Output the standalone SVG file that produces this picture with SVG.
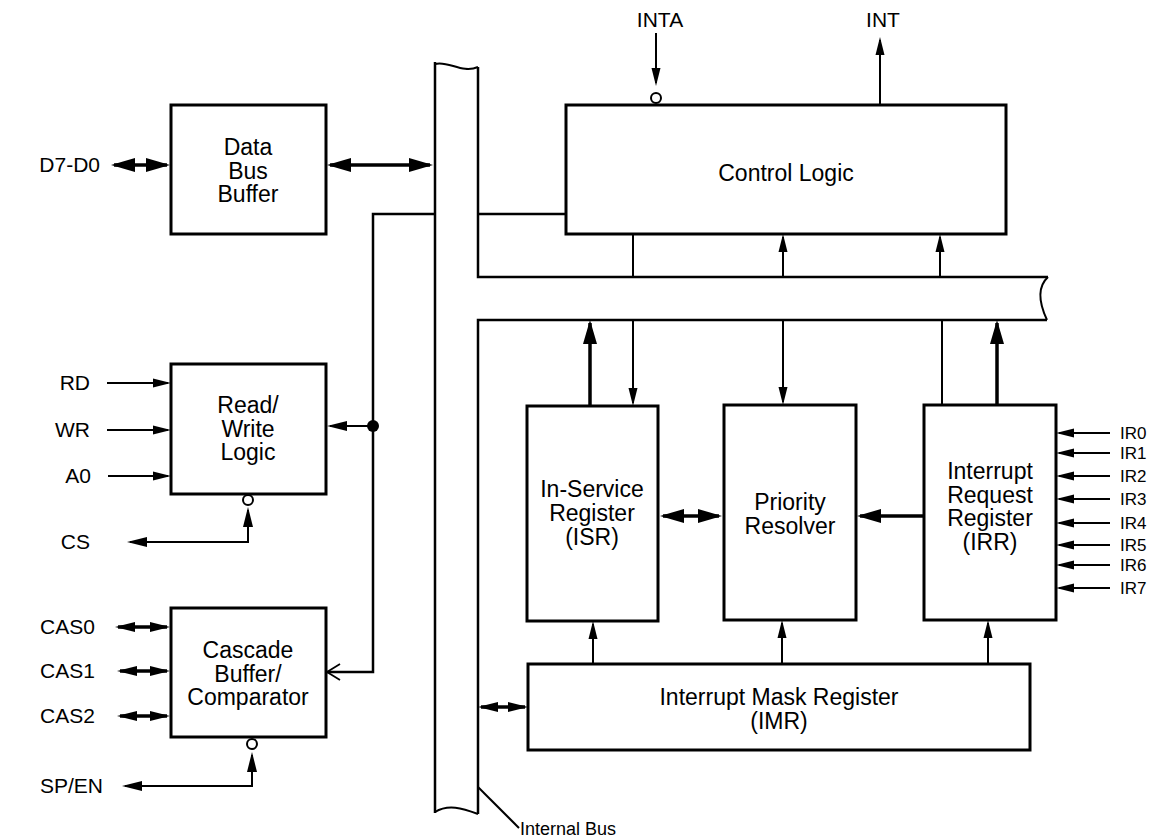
<svg xmlns="http://www.w3.org/2000/svg" width="1158" height="840" viewBox="0 0 1158 840">
<style>
.box{fill:#fff;stroke:#000;stroke-width:3}
.bus{fill:none;stroke:#000;stroke-width:2.5}
.w{fill:none;stroke:#000;stroke-width:2}
.t{fill:none;stroke:#000;stroke-width:3.5}
.bub{fill:#fff;stroke:#000;stroke-width:2}
text{font-family:"Liberation Sans",Arial,sans-serif;fill:#000}
.bt{font-size:23px;text-anchor:middle}
.lb{font-size:21px}
.ir{font-size:17px}
</style>
<defs>
<marker id="ab" markerUnits="userSpaceOnUse" markerWidth="24" markerHeight="14" refX="21" refY="7" orient="auto-start-reverse" overflow="visible"><path d="M0,0 L24,7 L0,14 z" fill="#000"/></marker>
<marker id="am" markerUnits="userSpaceOnUse" markerWidth="20" markerHeight="10" refX="17" refY="5" orient="auto-start-reverse" overflow="visible"><path d="M0,0 L20,5 L0,10 z" fill="#000"/></marker>
<marker id="as" markerUnits="userSpaceOnUse" markerWidth="18" markerHeight="9" refX="15" refY="4.5" orient="auto-start-reverse" overflow="visible"><path d="M0,0 L18,4.5 L0,9 z" fill="#000"/></marker>
<marker id="ao" markerUnits="userSpaceOnUse" markerWidth="14" markerHeight="18" refX="13" refY="9" orient="auto" overflow="visible"><path d="M0,1 L13,9 L0,17" fill="none" stroke="#000" stroke-width="1.8"/></marker>
</defs>

<g id="internal-bus">
<path class="bus" d="M435,62 V813"/>
<path class="bus" d="M478,67 V277 H1048"/>
<path class="bus" d="M1047,320 H478 V814"/>
<path class="w" d="M435,64 C448,60 462,74 478,67"/>
<path class="w" d="M435,812 C448,804 462,808 478,814"/>
<path class="w" d="M1048,277 C1036,288 1040,305 1047,320"/>
<text x="520" y="835" style="font-size:18px">Internal Bus</text>
</g>

<g id="data-bus-buffer">
<rect class="box" x="171" y="105" width="155" height="129"/>
<text class="bt" x="248" y="155">Data<tspan x="248" dy="23.5">Bus</tspan><tspan x="248" dy="23.5">Buffer</tspan></text>
</g>

<g id="read-write-logic">
<rect class="box" x="171" y="364" width="155" height="130"/>
<text class="bt" x="248" y="413">Read/<tspan x="248" dy="23.5">Write</tspan><tspan x="248" dy="23.5">Logic</tspan></text>
<circle class="bub" cx="248" cy="500" r="5"/>
</g>

<g id="cascade-buffer">
<rect class="box" x="171" y="608" width="155" height="129"/>
<text class="bt" x="248" y="658">Cascade<tspan x="248" dy="23.5">Buffer/</tspan><tspan x="248" dy="23.5">Comparator</tspan></text>
<circle class="bub" cx="252" cy="744" r="5"/>
</g>

<g id="control-logic">
<rect class="box" x="566" y="105" width="440" height="129"/>
<text class="bt" x="786" y="181">Control Logic</text>
<circle class="bub" cx="656" cy="98" r="5"/>
</g>

<g id="isr">
<rect class="box" x="527" y="406" width="131" height="215"/>
<text class="bt" x="592" y="497">In-Service<tspan x="592" dy="24">Register</tspan><tspan x="592" dy="24">(ISR)</tspan></text>
</g>

<g id="priority-resolver">
<rect class="box" x="724" y="405" width="132" height="215"/>
<text class="bt" x="790" y="510">Priority<tspan x="790" dy="23.5">Resolver</tspan></text>
</g>

<g id="irr">
<rect class="box" x="924" y="405" width="132" height="215"/>
<text class="bt" x="990" y="479">Interrupt<tspan x="990" dy="23.5">Request</tspan><tspan x="990" dy="23.5">Register</tspan><tspan x="990" dy="23.5">(IRR)</tspan></text>
</g>

<g id="imr">
<rect class="box" x="528" y="664" width="502" height="86"/>
<text class="bt" x="779" y="705">Interrupt Mask Register<tspan x="779" dy="24">(IMR)</tspan></text>
</g>

<g id="pin-labels">
<text class="lb" x="100" y="172" text-anchor="end">D7-D0</text>
<text class="lb" x="660" y="27" text-anchor="middle">INTA</text>
<text class="lb" x="883" y="27" text-anchor="middle">INT</text>
<text class="lb" x="90" y="390" text-anchor="end">RD</text>
<text class="lb" x="90" y="437" text-anchor="end">WR</text>
<text class="lb" x="91" y="483" text-anchor="end">A0</text>
<text class="lb" x="90" y="549" text-anchor="end">CS</text>
<text class="lb" x="40" y="634">CAS0</text>
<text class="lb" x="40" y="678">CAS1</text>
<text class="lb" x="40" y="723">CAS2</text>
<text class="lb" x="40" y="793">SP/EN</text>
<text class="ir" x="1120" y="439">IR0</text>
<text class="ir" x="1120" y="459">IR1</text>
<text class="ir" x="1120" y="482">IR2</text>
<text class="ir" x="1120" y="505">IR3</text>
<text class="ir" x="1120" y="529">IR4</text>
<text class="ir" x="1120" y="551">IR5</text>
<text class="ir" x="1120" y="571">IR6</text>
<text class="ir" x="1120" y="594">IR7</text>
</g>

<g id="connectors">
<line class="t" x1="114" y1="165" x2="167" y2="165" marker-start="url(#ab)" marker-end="url(#ab)"/>
<line class="t" x1="330" y1="165" x2="430" y2="165" marker-start="url(#ab)" marker-end="url(#ab)"/>
<line class="w" x1="656" y1="33" x2="656" y2="83" marker-end="url(#as)"/>
<line class="w" x1="880" y1="105" x2="880" y2="40" marker-end="url(#as)"/>
<path class="bus" d="M478,214 H566"/>
<path class="bus" d="M435,214 H373 V672 H327" marker-end="url(#ao)"/>
<circle cx="373" cy="426" r="6" fill="#000"/>
<line class="w" x1="373" y1="426" x2="330" y2="426" marker-end="url(#am)"/>
<line class="w" x1="107" y1="383" x2="168" y2="383" marker-end="url(#as)"/>
<line class="w" x1="107" y1="430" x2="168" y2="430" marker-end="url(#as)"/>
<line class="w" x1="108" y1="476" x2="168" y2="476" marker-end="url(#as)"/>
<path class="w" d="M130,542 H248 V510" marker-start="url(#am)" marker-end="url(#am)"/>
<line class="t" x1="118" y1="627" x2="167" y2="627" marker-start="url(#am)" marker-end="url(#am)"/>
<line class="t" x1="120" y1="671" x2="167" y2="671" marker-start="url(#am)" marker-end="url(#am)"/>
<line class="t" x1="120" y1="716" x2="167" y2="716" marker-start="url(#am)" marker-end="url(#am)"/>
<path class="w" d="M125,786 H252 V755" marker-start="url(#am)" marker-end="url(#am)"/>
<line class="w" x1="633" y1="277" x2="633" y2="234"/>
<line class="w" x1="783" y1="277" x2="783" y2="237" marker-end="url(#as)"/>
<line class="w" x1="940" y1="277" x2="940" y2="237" marker-end="url(#as)"/>
<line class="t" x1="590" y1="406" x2="590" y2="323" marker-end="url(#ab)"/>
<line class="w" x1="633" y1="320" x2="633" y2="403" marker-end="url(#as)"/>
<line class="w" x1="783" y1="320" x2="783" y2="402" marker-end="url(#as)"/>
<line class="w" x1="942" y1="320" x2="942" y2="405"/>
<line class="t" x1="997" y1="405" x2="997" y2="323" marker-end="url(#ab)"/>
<line class="t" x1="663" y1="516" x2="719" y2="516" marker-start="url(#ab)" marker-end="url(#ab)"/>
<line class="t" x1="924" y1="516" x2="860" y2="516" marker-end="url(#ab)"/>
<line class="w" x1="593" y1="664" x2="593" y2="624" marker-end="url(#as)"/>
<line class="w" x1="782" y1="664" x2="782" y2="623" marker-end="url(#as)"/>
<line class="w" x1="988" y1="664" x2="988" y2="623" marker-end="url(#as)"/>
<line class="t" x1="481" y1="707" x2="525" y2="707" marker-start="url(#am)" marker-end="url(#am)"/>
<line class="w" x1="1110" y1="433" x2="1059" y2="433" marker-end="url(#as)"/>
<line class="w" x1="1110" y1="453" x2="1059" y2="453" marker-end="url(#as)"/>
<line class="w" x1="1110" y1="476" x2="1059" y2="476" marker-end="url(#as)"/>
<line class="w" x1="1110" y1="499" x2="1059" y2="499" marker-end="url(#as)"/>
<line class="w" x1="1110" y1="523" x2="1059" y2="523" marker-end="url(#as)"/>
<line class="w" x1="1110" y1="545" x2="1059" y2="545" marker-end="url(#as)"/>
<line class="w" x1="1110" y1="565" x2="1059" y2="565" marker-end="url(#as)"/>
<line class="w" x1="1110" y1="588" x2="1059" y2="588" marker-end="url(#as)"/>
<line class="w" x1="478" y1="787" x2="519" y2="828"/>
</g>
</svg>
